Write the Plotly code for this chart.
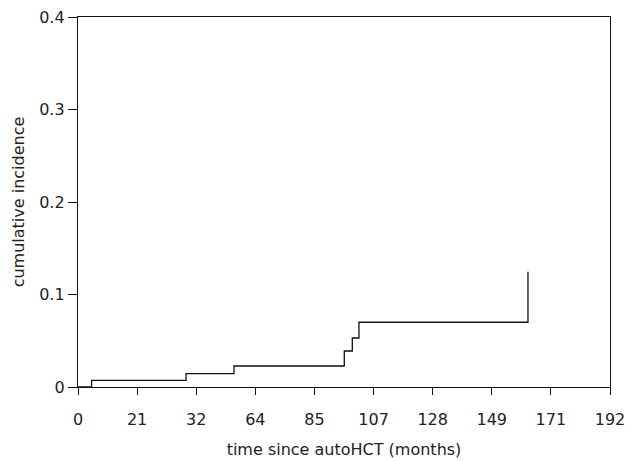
import plotly.graph_objects as go

# Step function of cumulative incidence
time_months = [0, 4.9, 39.0, 56.3, 96.1, 99.0, 101.4, 162.4]
cum_incidence = [0, 0.0072, 0.0144, 0.0227, 0.0389, 0.053, 0.070, 0.1247]

x_tick_vals = [i * 192 / 9 for i in range(10)]
x_tick_text = ["0", "21", "32", "64", "85", "107", "128", "149", "171", "192"]
y_tick_vals = [0, 0.1, 0.2, 0.3, 0.4]
y_tick_text = ["0", "0.1", "0.2", "0.3", "0.4"]

fig = go.Figure()
fig.add_trace(go.Scatter(
    x=time_months, y=cum_incidence, mode="lines",
    line=dict(shape="hv", color="#111111", width=1.3),
    showlegend=False, hoverinfo="skip"))

font = dict(family="DejaVu Sans, sans-serif", size=16, color="#222222")
fig.update_layout(
    width=626, height=461,
    margin=dict(l=78, r=16, t=17, b=74, autoexpand=False),
    plot_bgcolor="white", paper_bgcolor="white",
    font=font,
    xaxis=dict(range=[0, 192], tickvals=x_tick_vals, ticktext=x_tick_text,
               showgrid=False, zeroline=False, showline=True, linecolor="#111111",
               linewidth=1.3, mirror=True, ticks="outside", ticklen=7,
               tickcolor="#111111", tickwidth=1.3, automargin=False,
               ticklabelstandoff=11,
               title=dict(text="time since autoHCT (months)", standoff=15, font=dict(size=16))),
    yaxis=dict(range=[0, 0.4], tickvals=y_tick_vals, ticktext=y_tick_text,
               showgrid=False, zeroline=False, showline=True, linecolor="#111111",
               linewidth=1.3, mirror=True, ticks="outside", ticklen=9,
               tickcolor="#111111", tickwidth=1.3, automargin=False,
               title=dict(text="cumulative incidence", standoff=10, font=dict(size=16))),
)
fig.write_html("out.html", config={"displayModeBar": False},
               post_script="document.body.style.margin='0';")
